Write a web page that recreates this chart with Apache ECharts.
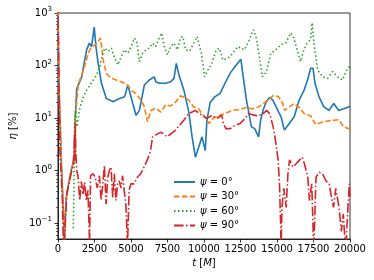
<!DOCTYPE html>
<html><head><meta charset="utf-8">
<script src="https://cdn.jsdelivr.net/npm/echarts@6/dist/echarts.min.js"></script>
<style>html,body{margin:0;padding:0;background:#fff}#c{width:374px;height:280px}</style>
</head><body><div id="c"></div>
<script>
const angles = [0, 30, 60, 90];
const colors = ['#1f77b4', '#ff7f0e', '#2ca02c', '#d62728'];
const xTicks = [0, 2500, 5000, 7500, 10000, 12500, 15000, 17500, 20000];
const yMajor = [0.1, 1, 10, 100, 1000];

const tBlue = [0,60,120,162,205,273,340,386,430,500,569,725,948,1110,1180,1286,1625,1963,2146,2302,2485,2600,2755,2979,3317,3771,4224,4563,4789,4901,5125,5348,5578,5917,6255,6594,6702,6932,7379,7718,7948,8104,8287,8625,8963,9187,9410,9640,9864,10087,10202,10426,10764,11103,11441,11780,12118,12525,12687,12910,13249,13472,13743,13879,14041,14264,14488,14718,14941,15165,15280,15503,15842,16180,16519,16857,17087,17311,17467,17602,17873,18211,18550,18888,19227,19565,19904,20000];
const vBlue = [1500,60,15,6.8,2.4,0.75,0.27,0.13,0.035,0.12,0.31,0.56,1.17,1.5,9,36,61,199,267,230,540,230,110,46,23.7,20.4,23.7,25.6,42.6,39.5,19,11.3,14,42.6,53,61,49,46,46,49,57,110,66,34,13,4.4,1.8,2.8,4.4,2.4,9.1,20,25.6,29.5,46,71,95,132,61,22,6.8,6.3,4.4,9.1,14,20.4,24.8,22,16.3,12.2,10.6,5.9,7.9,10.6,22,34,53,89,89,46,25.6,16.3,14,19,14,15,16.3,17];

const tOrange = [0,60,120,162,205,273,340,386,430,500,569,725,948,1110,1180,1200,1401,1750,2078,2302,2532,2755,2911,2979,3094,3317,3656,3995,4333,4789,5010,5348,5686,5917,6140,6363,6702,7040,7379,7718,8050,8390,8625,8963,9300,9640,9864,10087,10340,10630,11100,11440,11900,12380,12930,13270,13743,14290,14760,15100,15400,15500,15840,16180,16519,16860,17310,17650,17990,18440,18890,19230,19570,19900,20000];
const vOrange = [1500,60,15,6.8,2.4,0.75,0.27,0.13,0.04,0.12,0.3,0.55,1.15,1.45,9,12,45,82,172,230,247,287,333,247,128,71,57,53,49,42,34,29,22,16.3,8.5,14,15.5,13,18,17,20,26.5,25,22,16.3,15,12,10.3,7.9,9.9,11.3,12.2,14,14.5,16,15,16.3,21,27,25.6,19,14,16.3,19,16,12.2,11,7.5,8.2,8.8,9.1,9.3,6.8,6.3,6.6];

const tGreen = [1050,1080,1110,1150,1200,1290,1400,1515,1750,1963,2190,2417,2640,2870,3050,3210,3432,3656,3886,4110,4333,4563,4789,5010,5240,5416,5578,5800,6025,6255,6478,6702,6932,7108,7270,7494,7718,7948,8170,8390,8550,8740,9030,9390,9526,9660,9820,10040,10270,10500,10840,11060,11290,11640,11980,12310,12770,13110,13380,13560,13790,14010,14290,14580,14920,15260,15600,15940,16160,16380,16610,16840,17060,17290,17410,17530,17790,18130,18470,18810,19150,19490,19710,19940,20000];
const vGreen = [0.08,0.2,1.2,10.6,14,6.8,10.6,16.3,25.6,34,42.6,53,66,95,160,214,185,214,138,103,148,199,172,230,333,267,119,172,199,214,267,230,333,415,230,160,230,267,199,333,357,199,190,300,357,385,172,61,82,103,199,214,128,138,172,230,199,309,480,357,148,61,77,172,199,247,267,415,333,199,119,199,267,309,650,267,82,61,57,77,61,53,77,95,100];

const tRed = [0,80,120,205,297,360,400,470,610,840,1015,1110,1130,1160,1190,1230,1290,1381,1489,1604,1720,1828,1943,2058,2166,2234,2397,2552,2688,2843,2958,3074,3182,3297,3412,3520,3635,3751,3859,3974,4089,4197,4312,4428,4536,4651,4766,4874,4989,5213,5443,5667,5890,6120,6343,6480,7040,7490,8050,8620,8960,9410,9860,10200,10540,10880,11220,11330,11500,11800,12140,12480,12820,13040,13380,13720,14060,14290,14510,14740,14900,15080,15170,15250,15280,15340,15470,15630,15750,15860,16090,16310,16550,16720,16880,17110,17220,17380,17520,17670,17900,18120,18350,18580,18730,18870,19020,19250,19410,19540,19700,19860,19950,20000];
const vRed = [1500,30,3,1,0.31,0.06,0.03,0.03,0.36,0.75,1.17,2.4,5,1.5,8,2,1.0,0.75,0.27,0.62,0.35,0.6,0.27,0.42,0.04,0.8,0.87,0.75,0.47,0.8,0.27,0.56,1.25,0.23,0.75,1.0,1.17,0.31,0.87,0.27,0.56,0.64,0.47,0.8,0.42,0.23,0.04,0.42,0.56,0.56,0.75,0.87,1.17,1.6,2.4,4.4,5.4,4.4,5.9,9.1,12.2,14,11.3,9.9,11.3,9.9,11.3,7.9,6.3,6.3,7.3,7.9,9.9,12.2,11.5,11,12.2,14,12,6.8,3.7,1.6,0.56,0.096,0.03,0.2,0.46,0.2,0.87,1.6,1.17,1.35,1.6,1.8,1.35,0.75,0.27,0.56,0.03,0.75,0.93,0.87,0.64,0.56,0.31,0.2,0.46,0.2,0.07,0.15,0.03,0.2,0.56,0.3];

const yMinor = [];
[0.01, 0.1, 1, 10, 100].forEach(d => { for (let k = 2; k <= 9; k++) { const v = +(d * k).toPrecision(3); if (v >= 0.05 && v <= 1000) yMinor.push(v); } });

const zip = (t, v) => t.map((x, i) => [x, v[i]]);
const allData = [zip(tBlue, vBlue), zip(tOrange, vOrange), zip(tGreen, vGreen), zip(tRed, vRed)];
const dashes = ['solid', [5.5, 2.4], [1.5, 2.5], [9.6, 2.4, 1.5, 2.4]];

const font = 'DejaVu Sans';
const chart = echarts.init(document.getElementById('c'), null, {renderer: 'canvas'});
const supFmt = v => {
  const e = Math.round(Math.log10(v));
  return '{b|10}{s|' + (e < 0 ? '\u2212' + (-e) : e) + '}';
};
chart.setOption({
  animation: false,
  backgroundColor: '#fff',
  textStyle: {fontFamily: font},
  grid: {left: 54, right: 24, top: 13, bottom: 41, show: true, borderColor: '#000', borderWidth: 0.8, backgroundColor: 'transparent'},
  legend: {
    orient: 'vertical', left: 168, top: 172, itemWidth: 21, itemHeight: 10, itemGap: 4.5,
    data: angles.map(String),
    itemStyle: {opacity: 0},
    formatter: n => '{i|\u03c8} = ' + n + '\u00b0',
    textStyle: {fontFamily: font, fontSize: 10, color: '#000', rich: {i: {fontFamily: font, fontStyle: 'italic', fontSize: 10, color: '#000'}}}
  },
  xAxis: {
    type: 'value', min: 0, max: 20000, interval: 2500,
    name: '{i|t} [{i|M}]', nameLocation: 'middle', nameGap: 16,
    nameTextStyle: {fontFamily: font, fontSize: 10, color: '#000', rich: {i: {fontFamily: font, fontStyle: 'italic', fontSize: 10, color: '#000'}}},
    axisLine: {lineStyle: {color: '#000', width: 0.8}},
    axisTick: {length: 3.5, lineStyle: {color: '#000', width: 0.8}},
    axisLabel: {fontFamily: font, fontSize: 10, color: '#000', margin: 5, formatter: v => String(v)},
    splitLine: {show: false}
  },
  yAxis: [{
    type: 'log', min: 0.05, max: 1000, logBase: 10, position: 'left',
    name: '{i|\u03b7} [%]', nameLocation: 'middle', nameGap: 36,
    nameTextStyle: {fontFamily: font, fontSize: 10, color: '#000', rich: {i: {fontFamily: font, fontStyle: 'italic', fontSize: 10, color: '#000'}}},
    axisLine: {show: true, lineStyle: {color: '#000', width: 0.8}},
    axisTick: {show: true, length: 3.5, customValues: yMajor, lineStyle: {color: '#000', width: 0.8}},
    axisLabel: {customValues: yMajor, formatter: supFmt, margin: 6, color: '#000',
      rich: {b: {fontFamily: font, fontSize: 10, color: '#000'}, s: {fontFamily: font, fontSize: 7, color: '#000', padding: [0, 0, 7, 0]}}},
    splitLine: {show: false}
  }, {
    type: 'log', min: 0.05, max: 1000, logBase: 10, position: 'left', offset: 0,
    axisLine: {show: false},
    axisTick: {show: true, length: 2, customValues: yMinor, lineStyle: {color: '#000', width: 0.6}},
    axisLabel: {show: false},
    splitLine: {show: false}
  }],
  series: angles.map((a, i) => ({
    name: String(a), type: 'line', data: allData[i], showSymbol: false, symbol: 'none',
    clip: true, color: colors[i],
    lineStyle: {color: colors[i], width: 1.6, type: dashes[i]}
  }))
});
</script></body></html>
